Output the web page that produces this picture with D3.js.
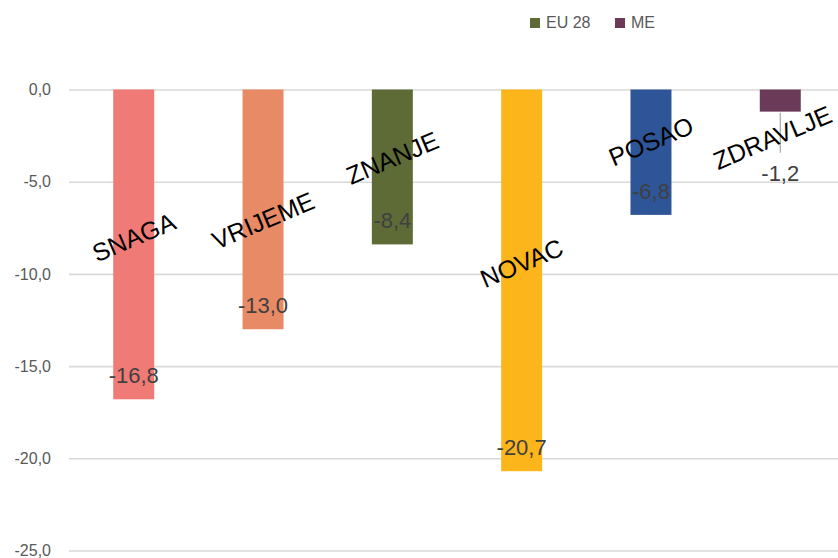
<!DOCTYPE html>
<meta charset="utf-8">
<script src="https://cdn.jsdelivr.net/npm/d3@7/dist/d3.min.js"></script>
<style>
  body { margin: 0; background: #fff; }
  text { font-family: "Liberation Sans", Arial, sans-serif; }
</style>
<body>
<script>

// data
var categories = ["SNAGA", "VRIJEME", "ZNANJE", "NOVAC", "POSAO", "ZDRAVLJE"];
var values = [-16.8, -13.0, -8.4, -20.7, -6.8, -1.2];
var barColors = ["#F07A76", "#E98A66", "#5E6B37", "#FCB51A", "#2E5597", "#6B3A58"];
// where the slanted category names sit, in axis units
var nameAt = [-8.0, -7.1, -3.7, -9.4, -2.8, -2.6];
var yTicks = [0, -5, -10, -15, -20, -25];
var legendNames = ["EU 28", "ME"];
var legendColors = ["#5E6B37", "#6B3A58"];

var W = 838, H = 558;
var left = 69, right = 845, top0 = 89.5, bottom0 = 550.5;

var svg = d3.select("body").append("svg")
    .attr("width", W)
    .attr("height", H);

var x = d3.scaleBand().domain(categories).range([left, right])
    .paddingInner(0.683).paddingOuter(0.342);
var y = d3.scaleLinear().domain([-25, 0]).range([bottom0, top0]);
var locale = d3.formatLocale({decimal: ",", thousands: ".", grouping: [3], currency: ["", ""], minus: "-"});
var fmt = locale.format(".1f");

// gridlines
var grid = svg.append("g").attr("transform", "translate(" + left + ",0)")
    .call(d3.axisLeft(y).tickValues(yTicks).tickSize(-(W - left)).tickFormat(""));
grid.select(".domain").remove();
grid.selectAll("line").attr("stroke", "#d9d9d9").attr("stroke-width", 1.6);

// y axis labels
var yAxis = svg.append("g").attr("transform", "translate(" + left + ",0)")
    .call(d3.axisLeft(y).tickValues(yTicks).tickSize(0).tickPadding(18).tickFormat(fmt));
yAxis.select(".domain").remove();
yAxis.selectAll("text").attr("fill", "#595959").style("font-size", "16px");

// bars
svg.append("g").selectAll("rect")
    .data(values).enter().append("rect")
    .attr("x", function(d, i) { return x(categories[i]); })
    .attr("y", y(0))
    .attr("width", x.bandwidth())
    .attr("height", function(d) { return y(d) - y(0); })
    .attr("fill", function(d, i) { return barColors[i]; });

// value labels (inside end; tiny bar gets label below with leader line)
values.forEach(function(v, i) {
  var cx = x(categories[i]) + x.bandwidth() / 2;
  var small = (y(v) - y(0)) < 40;
  var by = small ? y(v) + 69 : y(v) - 16;
  if (small) {
    svg.append("line")
      .attr("x1", cx).attr("x2", cx)
      .attr("y1", y(v) + 1).attr("y2", by - 28)
      .attr("stroke", "#a6a6a6").attr("stroke-width", 1.2);
  }
  svg.append("text")
    .attr("x", cx).attr("y", by)
    .attr("text-anchor", "middle")
    .attr("fill", "#404040")
    .style("font-size", "22px")
    .text(fmt(v));
});

// slanted category names
var names = svg.append("g").selectAll("text")
    .data(categories).enter().append("text")
    .attr("text-anchor", "middle")
    .attr("dy", "0.36em")
    .attr("fill", "#000")
    .style("font-size", "25px")
    .text(function(d) { return d; });

names.each(function(d, i) {
  var cx = x(d) + x.bandwidth() / 2;
  // keep the slanted name inside the picture
  var a = 23 * Math.PI / 180;
  var reach = this.getComputedTextLength() / 2 * Math.cos(a) + 12 * Math.sin(a);
  cx = Math.min(cx, W - 3 - reach);
  d3.select(this).attr("transform",
    "translate(" + cx + "," + y(nameAt[i]) + ") rotate(-23)");
});

// legend
var lx = [530, 615];
var legend = svg.selectAll(".lg").data(legendNames).enter().append("g")
    .attr("transform", function(d, i) { return "translate(" + lx[i] + ",18)"; });
legend.append("rect").attr("width", 10).attr("height", 10)
    .attr("fill", function(d, i) { return legendColors[i]; });
legend.append("text").attr("x", 16).attr("y", 10)
    .attr("fill", "#595959").style("font-size", "16px")
    .text(String);

</script>
</body>
</html>
